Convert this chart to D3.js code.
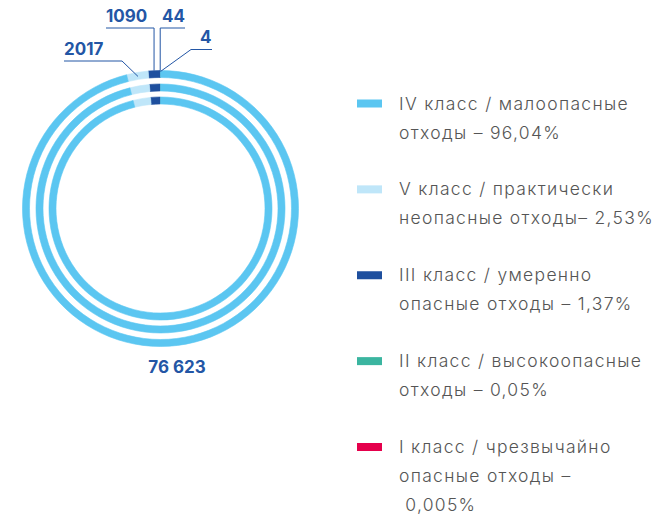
<!DOCTYPE html>
<html>
<head>
<meta charset="utf-8">
<script src="https://cdn.jsdelivr.net/npm/d3@7"></script>
<style>
  html, body { margin: 0; padding: 0; background: #fff; }
  svg { display: block; }
</style>
</head>
<body>
<svg id="chart" width="671" height="518"></svg>
<script>
// Waste by hazard class, tonnes (drawn counter-clockwise from 12 o'clock)
const classes = ["I", "II", "III", "V", "IV"];
const tonnes = [4, 44, 1090, 2017, 76623];
const valueLabels = ["4", "44", "1090", "2017", "76 623"];
const colors = ["#e5004c", "#3bb5a0", "#1e4f9e", "#bfe6f9", "#5bc6f1"];

// Legend, top to bottom
const legendClasses = ["IV", "V", "III", "II", "I"];
const legendLines = [
  ["IV класс / малоопасные", "отходы – 96,04%"],
  ["V класс / практически", "неопасные отходы– 2,53%"],
  ["III класс / умеренно", "опасные отходы – 1,37%"],
  ["II класс / высокоопасные", "отходы – 0,05%"],
  ["I класс / чрезвычайно", "опасные отходы –", "\u00a00,005%"]
];

const svg = d3.select("#chart");
const cx = 160.5, cy = 208.5;
const rings = [[131, 138], [117.5, 124.5], [104.5, 111.5]];
const labelColor = "#2356a5";

const pie = d3.pie().sort(null).value(d => d.v).startAngle(0).endAngle(-2 * Math.PI);
const data = classes.map((c, i) => ({ c, v: tonnes[i], color: colors[i], label: valueLabels[i] }));
const arcsData = pie(data);

const g = svg.append("g").attr("transform", `translate(${cx},${cy})`);
rings.forEach(([ri, ro]) => {
  const arc = d3.arc().innerRadius(ri).outerRadius(ro);
  g.append("g").selectAll("path")
    .data(arcsData)
    .join("path")
    .attr("d", arc)
    .attr("fill", d => d.data.color)
    .attr("stroke", d => d.data.color)
    .attr("stroke-width", 0.6);
});

// Point on the outer ring at a slice's mid angle
const outerR = rings[0][1];
function anchor(d, r) {
  const a = (d.startAngle + d.endAngle) / 2;
  return [cx + r * Math.sin(a), cy - r * Math.cos(a)];
}

// Callouts for small slices: text position, elbow, end radius
const callouts = {
  "I":   { tx: 200, ty: 43, line: (p) => [[212, 49.5], [191, 49.5], p], r: outerR - 1 },
  "II":  { tx: 162, ty: 22, line: (p) => [[185, 28], [p[0], 28], p], r: outerR },
  "III": { tx: 106, ty: 22, line: (p) => [[106, 28], [p[0], 28], p], r: outerR },
  "V":   { tx: 64, ty: 55, line: (p) => [[64, 61], [122, 61], p], r: outerR - 4 }
};

const line = d3.line();
arcsData.forEach(d => {
  const co = callouts[d.data.c];
  if (!co) return;
  const p = anchor(d, co.r);
  svg.append("path")
    .attr("d", line(co.line(p)))
    .attr("fill", "none")
    .attr("stroke", labelColor)
    .attr("stroke-width", 1);
  svg.append("text")
    .attr("x", co.tx).attr("y", co.ty)
    .attr("font-family", "Inter, 'Noto Sans', sans-serif")
    .attr("font-weight", 700)
    .attr("font-size", 17)
    .attr("fill", labelColor)
    .text(d.data.label);
});

// Main slice value below the rings
const big = arcsData.find(d => d.data.c === "IV");
svg.append("text")
  .attr("x", 177).attr("y", 373)
  .attr("text-anchor", "middle")
  .attr("font-family", "Inter, 'Noto Sans', sans-serif")
  .attr("font-weight", 700)
  .attr("font-size", 17)
  .attr("fill", labelColor)
  .text(big.data.label);

// Legend
const colorOf = c => colors[classes.indexOf(c)];
const yScale = d3.scalePoint().domain(legendClasses).range([103.5, 447]);
const legend = svg.append("g");
legendClasses.forEach((c, i) => {
  const y = yScale(c);
  legend.append("rect")
    .attr("x", 357).attr("y", y - 4)
    .attr("width", 25).attr("height", 8)
    .attr("fill", colorOf(c));
  const t = legend.append("text")
    .attr("font-family", "Inter, 'Noto Sans', sans-serif")
    .attr("font-weight", 300)
    .attr("font-size", 17.5)
    .attr("letter-spacing", 1.3)
    .attr("fill", "#555");
  legendLines[i].forEach((s, k) => {
    t.append("tspan").attr("x", 399).attr("y", y + 6 + k * 29).text(s);
  });
});
</script>
</body>
</html>
